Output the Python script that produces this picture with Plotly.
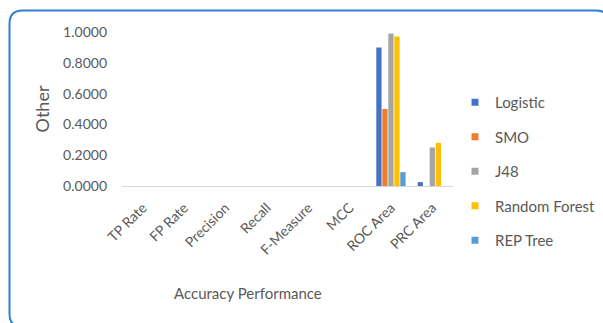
import plotly.graph_objects as go

# Accuracy metrics per classifier
categories = ["TP Rate", "FP Rate", "Precision", "Recall", "F-Measure", "MCC", "ROC Area", "PRC Area"]
logistic = [0, 0, 0, 0, 0, 0, 0.90, 0.025]
smo = [0, 0, 0, 0, 0, 0, 0.50, 0]
j48 = [0, 0, 0, 0, 0, 0, 0.99, 0.25]
random_forest = [0, 0, 0, 0, 0, 0, 0.97, 0.28]
rep_tree = [0, 0, 0, 0, 0, 0, 0.09, 0]

series = [
    ("Logistic", logistic, "#4472C4"),
    ("SMO", smo, "#ED7D31"),
    ("J48", j48, "#A5A5A5"),
    ("Random Forest", random_forest, "#FFC000"),
    ("REP Tree", rep_tree, "#5B9BD5"),
]

W, H = 603, 323
L, R, T, B = 122, 150, 32, 137
pw, ph = W - L - R, H - T - B

FONT = "Lato, Carlito, 'Open Sans', sans-serif"
GREY = "#595959"

fig = go.Figure()
for name, vals, color in series:
    fig.add_trace(go.Bar(x=categories, y=vals, name=name, legendgroup=name, showlegend=False,
                         marker=dict(color=color, line=dict(width=0))))
# small square swatches for the legend
for name, vals, color in series:
    fig.add_trace(go.Scatter(x=[None], y=[None], mode="markers", name=name, legendgroup=name,
                             marker=dict(symbol="square", size=7, color=color)))


def px_x(x):
    return (x - L) / pw


def px_y(y):
    return (H - B - y) / ph


# rounded frame around the chart
x0, y0, x1, y1, r = 9.5, 10.5, 609, 327, 13
path = (
    f"M {px_x(x0 + r)} {px_y(y0)} L {px_x(x1 - r)} {px_y(y0)} "
    f"Q {px_x(x1)} {px_y(y0)} {px_x(x1)} {px_y(y0 + r)} "
    f"L {px_x(x1)} {px_y(y1 - r)} Q {px_x(x1)} {px_y(y1)} {px_x(x1 - r)} {px_y(y1)} "
    f"L {px_x(x0 + r)} {px_y(y1)} Q {px_x(x0)} {px_y(y1)} {px_x(x0)} {px_y(y1 - r)} "
    f"L {px_x(x0)} {px_y(y0 + r)} Q {px_x(x0)} {px_y(y0)} {px_x(x0 + r)} {px_y(y0)} Z"
)

fig.update_layout(
    width=W, height=H,
    margin=dict(l=L, r=R, t=T, b=B, pad=0, autoexpand=False),
    paper_bgcolor="white", plot_bgcolor="white",
    font=dict(family=FONT, color=GREY, size=14),
    barmode="group", bargap=0.275, bargroupgap=0.12,
    showlegend=True,
    legend=dict(x=px_x(455), y=px_y(86), xanchor="left", yanchor="top",
                font=dict(size=15, color=GREY), tracegroupgap=12, maxheight=260,
                itemwidth=30, bgcolor="rgba(0,0,0,0)"),
    shapes=[dict(type="path", xref="paper", yref="paper", path=path,
                 line=dict(color="#2F80CF", width=2), fillcolor="rgba(0,0,0,0)")],
    annotations=[dict(text="Accuracy Performance", xref="paper", yref="paper",
                      x=px_x(247.5), y=px_y(293), showarrow=False,
                      font=dict(size=15, color=GREY), xanchor="center", yanchor="middle")],
    xaxis=dict(tickangle=-45, tickfont=dict(size=14, color=GREY), showgrid=False,
               showline=False, ticks="", zeroline=False, ticklabelstandoff=10),
    yaxis=dict(range=[0, 1.0], tickvals=[0, 0.2, 0.4, 0.6, 0.8, 1.0], tickformat=".4f",
               tickfont=dict(size=14, color=GREY), showgrid=False, zeroline=True,
               zerolinecolor="#D9D9D9", zerolinewidth=1, showline=False, ticks="",
               ticklabelstandoff=14,
               title=dict(text="Other", font=dict(size=18, color=GREY), standoff=8)),
)

fig.write_html("out.html")
